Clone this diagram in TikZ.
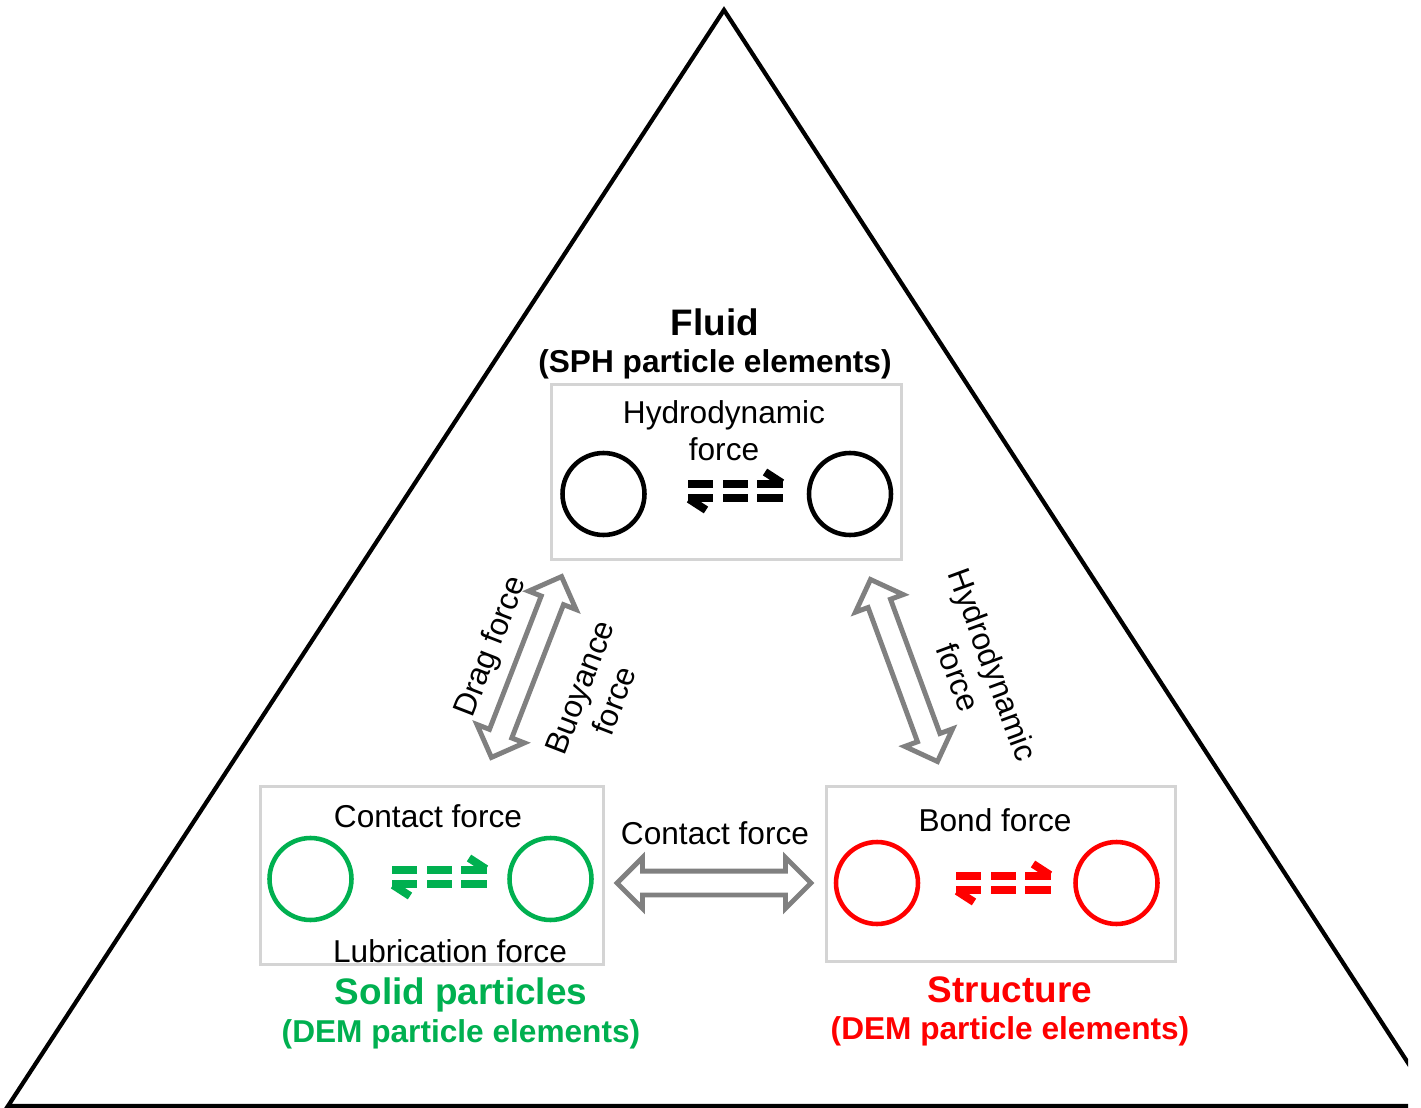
\documentclass[tikz,border=0pt]{standalone}
\usepackage{fontspec}
\setmainfont{Liberation Sans}
\usetikzlibrary{arrows.meta,positioning,shapes.arrows,calc}
\definecolor{SolidGreen}{RGB}{0,176,80}
\definecolor{StructRed}{RGB}{255,0,0}
\definecolor{BoxGray}{RGB}{212,212,212}
\definecolor{ArrowGray}{RGB}{128,128,128}

\tikzset{
  panel/.style={draw=BoxGray, line width=1.7pt, inner sep=0pt, minimum width=7cm, minimum height=3.5cm},
  ptcl/.style={circle, draw=#1, line width=2.6pt, inner sep=0pt, minimum size=1.64cm},
  hollow/.style={double arrow, draw=ArrowGray, fill=white, line width=2.8pt, inner xsep=0pt, inner ysep=0.19cm,
    outer sep=0pt, minimum height=3.88cm, double arrow head extend=0.27cm},
  lbl/.style={font=\fontsize{18}{21}\selectfont, align=center, inner sep=0pt},
  ttl/.style={font=\fontsize{21}{25}\selectfont\bfseries, inner sep=0pt},
  sub/.style={font=\fontsize{18}{21}\selectfont\bfseries, inner sep=0pt},
  % dashed exchange sign between two particles
  pics/exch/.style={code={
    \foreach \y in {-7,7}
      \foreach \a/\b in {-48/-23,-13/12,21/47}
        \draw[#1, line width=0.17cm] (\a,\y) -- (\b,\y);
    \draw[#1, line width=0.16cm] (46,-8) -- (29,-19);
    \draw[#1, line width=0.16cm] (-47,8) -- (-30,19);
  }}
}

\begin{document}
\begin{tikzpicture}[x=0.02cm, y=-0.02cm]
  \useasboundingbox (0,0) rectangle (1421,1108);

  % outer triangle, cut at the right edge
  \begin{scope}
    \clip (0,0) rectangle (1408,1108);
    \draw[line width=2.4pt, line join=miter] (724,10) -- (1436,1106) -- (8,1106) -- cycle;
  \end{scope}

  % the three panels
  \node[panel, minimum width=7.0cm, minimum height=3.5cm] (fluid) at (726.5,472) {};
  \node[panel, minimum width=6.86cm, minimum height=3.56cm] (solid) at (432,875.5) {};
  \node[panel, minimum width=6.98cm, minimum height=3.5cm] (struct) at (1001,874) {};

  % particles
  \foreach \n/\x/\y/\c in {fl1/603.5/494/black, fl2/850/494/black,
                           so1/310.5/879/SolidGreen, so2/550.5/879/SolidGreen,
                           st1/877/883/StructRed, st2/1116.5/883/StructRed} {
    \node[ptcl=\c] (\n) at (\x,\y) {};
  }
  \pic at (736,491) {exch=black};
  \pic at (440,877) {exch=SolidGreen};
  \pic at (1004,883) {exch=StructRed};

  % labels inside the panels
  \node[lbl] (hydin) at (724,431) {Hydrodynamic\\force};
  \node[lbl] (solcon) at (428,816) {Contact force};
  \node[lbl] (lub) at (450,951) {Lubrication force};
  \node[lbl] (bond) at (995,820) {Bond force};

  % titles
  \node[ttl] (fltitle) at (715,322) {Fluid};
  \node[sub] (flsub) at (715,364) {(SPH particle elements)};
  \node[ttl, text=SolidGreen] (sotitle) at (461,995) {Solid particles};
  \node[sub, text=SolidGreen] (sosub) at (461,1034) {(DEM particle elements)};
  \node[ttl, text=StructRed] (sttitle) at (1010,990) {Structure};
  \node[sub, text=StructRed] (stsub) at (1010,1031) {(DEM particle elements)};

  % coupling arrows
  \node[hollow, rotate=68.8] (dragarr) at (526.5,667) {};
  \node[hollow, rotate=110.2] (hydarr) at (904,670.5) {};
  \node[hollow] (conarr) at (714,883) {};

  \node[lbl, rotate=68.8] (drag) at (492,647) {Drag force};
  \node[lbl, rotate=68.8] (buoy) at (597,694) {Buoyance\\force};
  \node[lbl, rotate=-69.8] (hydro) at (976,671) {Hydrodynamic\\force};
  \node[lbl] (contact) at (715,833) {Contact force};
\end{tikzpicture}
\end{document}
